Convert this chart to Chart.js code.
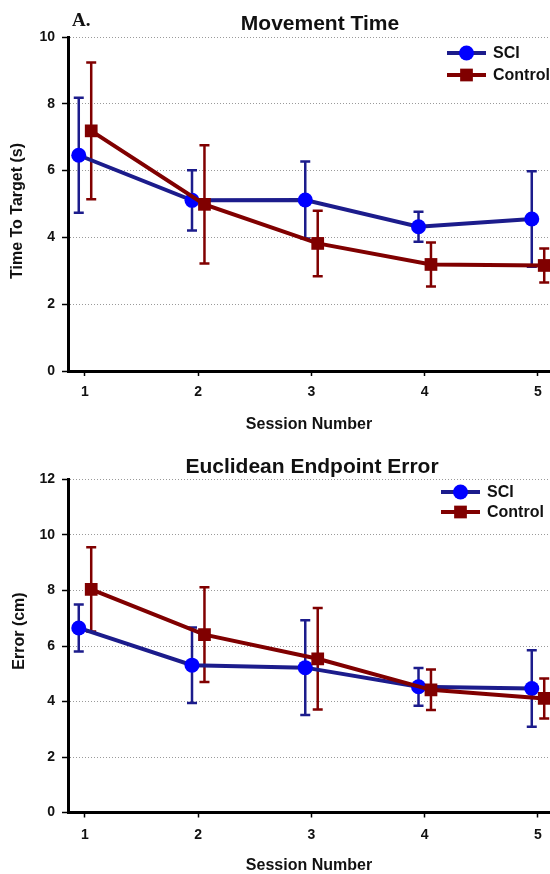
<!DOCTYPE html>
<html>
<head>
<meta charset="utf-8">
<script src="https://cdn.jsdelivr.net/npm/chart.js@4.4.1/dist/chart.umd.min.js"></script>
<style>
    html, body { margin: 0; padding: 0; background: #fff; overflow: hidden; }
    .panel { position: absolute; left: 0; width: 550px; height: 440px; }
    #top { top: 0; }
    #bottom { top: 440px; }
</style>
</head>
<body>
<div class="panel" id="top"><canvas id="timeChart"></canvas></div>
<div class="panel" id="bottom"><canvas id="errorChart"></canvas></div>
<script>
const sessions = [1, 2, 3, 4, 5];

// Movement Time (s), mean and error bar half-length
const timeSCI = [6.46, 5.11, 5.12, 4.32, 4.55];
const timeSCIErr = [1.72, 0.9, 1.15, 0.45, 1.43];
const timeControl = [7.19, 4.99, 3.82, 3.19, 3.16];
const timeControlErr = [2.05, 1.77, 0.98, 0.66, 0.51];

// Euclidean Endpoint Error (cm)
const errorSCI = [6.65, 5.31, 5.22, 4.53, 4.47];
const errorSCIErr = [0.85, 1.36, 1.71, 0.68, 1.38];
const errorControl = [8.04, 6.41, 5.54, 4.42, 4.11];
const errorControlErr = [1.52, 1.71, 1.83, 0.73, 0.72];

const FONT = '"Liberation Sans", Arial, sans-serif';
const SCI_LINE = '#1c1c8c';
const SCI_MARK = '#0000ff';
const CTRL = '#800000';
const DODGE = 0.055;

// error bars drawn under the lines and markers
const errorBarPlugin = {
    id: 'errorBars',
    beforeDatasetsDraw(chart) {
        const ctx = chart.ctx;
        const yScale = chart.scales.y;
        chart.data.datasets.forEach((ds, di) => {
            const meta = chart.getDatasetMeta(di);
            ctx.save();
            ctx.strokeStyle = ds.errorColor;
            ctx.lineWidth = 2.5;
            meta.data.forEach((pt, i) => {
                const v = ds.data[i].y;
                const e = ds.errors[i];
                const yTop = yScale.getPixelForValue(v + e);
                const yBot = yScale.getPixelForValue(v - e);
                ctx.beginPath();
                ctx.moveTo(pt.x, yTop);
                ctx.lineTo(pt.x, yBot);
                ctx.moveTo(pt.x - 5, yTop);
                ctx.lineTo(pt.x + 5, yTop);
                ctx.moveTo(pt.x - 5, yBot);
                ctx.lineTo(pt.x + 5, yBot);
                ctx.stroke();
            });
            ctx.restore();
        });
    }
};

// titles, panel tag, y axis title and legend
const decorPlugin = {
    id: 'decor',
    afterDraw(chart, args, opts) {
        const ctx = chart.ctx;
        ctx.save();
        ctx.fillStyle = '#111';
        ctx.textBaseline = 'middle';

        ctx.font = 'bold 21px ' + FONT;
        ctx.textAlign = 'center';
        ctx.fillText(opts.title.text, opts.title.x, opts.title.y);

        if (opts.tag) {
            ctx.font = 'bold 19px "Liberation Serif", "Times New Roman", serif';
            ctx.textAlign = 'left';
            ctx.fillText(opts.tag.text, opts.tag.x, opts.tag.y);
        }

        ctx.save();
        ctx.translate(opts.yTitle.x, opts.yTitle.y);
        ctx.rotate(-Math.PI / 2);
        ctx.font = 'bold 16px ' + FONT;
        ctx.textAlign = 'center';
        ctx.fillText(opts.yTitle.text, 0, 0);
        ctx.restore();

        // legend: line segment with marker, then label
        const lg = opts.legend;
        chart.data.datasets.forEach((ds, di) => {
            const y = lg.y + di * lg.gap;
            ctx.strokeStyle = ds.borderColor;
            ctx.lineWidth = 4;
            ctx.beginPath();
            ctx.moveTo(lg.x, y);
            ctx.lineTo(lg.x + lg.len, y);
            ctx.stroke();
            ctx.fillStyle = ds.pointBackgroundColor;
            Chart.helpers.drawPoint(ctx, {
                pointStyle: ds.pointStyle, radius: ds.pointRadius, rotation: 0, borderWidth: 0
            }, lg.x + lg.len / 2, y);
            ctx.fillStyle = '#111';
            ctx.font = 'bold 16px ' + FONT;
            ctx.textAlign = 'left';
            ctx.fillText(ds.label, lg.x + lg.len + 7, y + 1);
        });
        ctx.restore();
    }
};

function createChart(canvasId, cfg) {
    const ctx = document.getElementById(canvasId).getContext('2d');
    return new Chart(ctx, {
        type: 'line',
        data: {
            datasets: [
                {
                    label: 'SCI',
                    data: sessions.map((s, i) => ({ x: s - DODGE, y: cfg.sci[i] })),
                    errors: cfg.sciErr,
                    errorColor: SCI_LINE,
                    borderColor: SCI_LINE,
                    borderWidth: 4,
                    pointStyle: 'circle',
                    pointRadius: 7.5,
                    pointBackgroundColor: SCI_MARK,
                    pointBorderWidth: 0,
                    tension: 0,
                    order: 1
                },
                {
                    label: 'Control',
                    data: sessions.map((s, i) => ({ x: s + DODGE, y: cfg.control[i] })),
                    errors: cfg.controlErr,
                    errorColor: CTRL,
                    borderColor: CTRL,
                    borderWidth: 4,
                    pointStyle: 'rect',
                    pointRadius: 9,
                    pointBackgroundColor: CTRL,
                    pointBorderWidth: 0,
                    tension: 0,
                    order: 0
                }
            ]
        },
        options: {
            responsive: true,
            maintainAspectRatio: false,
            animation: false,
            layout: { autoPadding: false, padding: { top: cfg.top, right: 0, bottom: 0, left: 0 } },
            plugins: {
                legend: { display: false },
                tooltip: { enabled: false },
                decor: cfg.decor
            },
            scales: {
                x: {
                    type: 'linear',
                    min: 0.85,
                    max: 5.106,
                    afterBuildTicks: s => { s.ticks = sessions.map(v => ({ value: v })); },
                    afterFit: s => {
                        s.height = cfg.xHeight;
                        s.paddingLeft = 0;
                        s.paddingRight = 0;
                    },
                    ticks: {
                        color: '#111',
                        padding: cfg.xTickPad,
                        font: { family: FONT, size: 14, weight: 'bold' }
                    },
                    grid: { drawOnChartArea: false, tickLength: 5, tickColor: '#000', tickWidth: 1.5 },
                    border: { color: '#000', width: 3 },
                    title: {
                        display: true,
                        text: 'Session Number',
                        color: '#111',
                        padding: { top: 0, bottom: cfg.xTitlePad },
                        font: { family: FONT, size: 16, weight: 'bold' }
                    }
                },
                y: {
                    min: 0,
                    max: cfg.yMax,
                    afterFit: s => { s.width = 68; },
                    ticks: {
                        stepSize: 2,
                        color: '#111',
                        padding: 7,
                        font: { family: FONT, size: 14, weight: 'bold' }
                    },
                    grid: { color: '#9a9a9a', lineWidth: 1, tickColor: '#000', tickLength: 6, tickWidth: 1.5 },
                    border: { color: '#000', width: 3, dash: [1, 2] }
                }
            }
        },
        plugins: [errorBarPlugin, decorPlugin]
    });
}

createChart('timeChart', {
    sci: timeSCI, sciErr: timeSCIErr, control: timeControl, controlErr: timeControlErr,
    yMax: 10, top: 37, xHeight: 69, xTickPad: 8, xTitlePad: 6,
    decor: {
        title: { text: 'Movement Time', x: 320, y: 24 },
        tag: { text: 'A.', x: 72, y: 21 },
        yTitle: { text: 'Time To Target (s)', x: 18, y: 211 },
        legend: { x: 447, y: 53, gap: 22, len: 39 }
    }
});

createChart('errorChart', {
    sci: errorSCI, sciErr: errorSCIErr, control: errorControl, controlErr: errorControlErr,
    yMax: 12, top: 39.5, xHeight: 67.5, xTickPad: 9.5, xTitlePad: 5,
    decor: {
        title: { text: 'Euclidean Endpoint Error', x: 312, y: 27.5 },
        yTitle: { text: 'Error (cm)', x: 19.5, y: 191 },
        legend: { x: 441, y: 52, gap: 20, len: 39 }
    }
});
</script>
</body>
</html>
